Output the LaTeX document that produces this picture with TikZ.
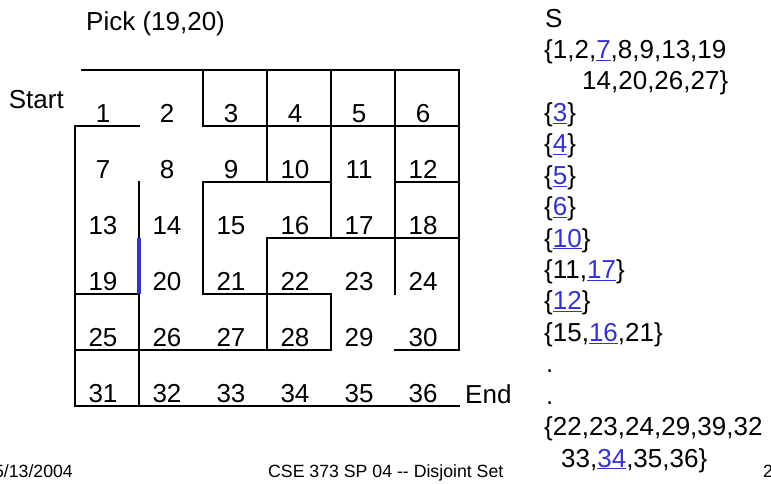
\documentclass[tikz,border=0pt]{standalone}
\usepackage{fontspec}
\setmainfont{Liberation Sans}
\usepackage{tikz}
\usetikzlibrary{positioning}
\definecolor{linkblue}{HTML}{3333CC}
\newcommand{\lnk}[1]{\textcolor{linkblue}{\underline{#1}}}
\tikzset{
  wall/.style={line width=1.8pt, line cap=rect},
  pickwall/.style={line width=3.5pt, draw=linkblue},
  cellnum/.style={anchor=base, inner sep=0pt,
    font=\fontsize{26}{30}\selectfont},
  setline/.style={anchor=base west, inner sep=0pt,
    font=\fontsize{26}{30}\selectfont},
  footer/.style={anchor=base west, inner sep=0pt,
    font=\fontsize{17.7}{21}\selectfont},
}

\begin{document}
\begin{tikzpicture}[x=1pt, y=-1pt]
\useasboundingbox (0,0) rectangle (771,483);
\node[setline] (pick) at (86,30) {Pick (19,20)};
\node[setline, anchor=base east] (start) at (64,108) {Start};
\node[setline] (finish) at (465,403) {End};
\begin{scope}[shift={(75,70)}, x=64pt, y=-56pt]
  \foreach \r/\a/\b in {0/0.1/6, 1/0/1, 1/2/6, 2/2/4, 2/5/6, 3/3/6,
                        4/0/1, 4/2/4, 5/0/4, 5/5/6, 6/0/6}
    \draw[wall] (\a,\r) -- (\b,\r);
  \foreach \c/\a/\b in {0/1/6, 1/2/3, 1/4/6, 2/0/1, 2/2/4, 3/0/2,
                        3/3/5, 4/0/3, 4/4/5, 5/0/4, 6/0/5}
    \draw[wall] (\c,\a) -- (\c,\b);
  \draw[pickwall] (1,3) -- (1,4);
  \foreach \j in {0,...,5}
    \foreach \i in {0,...,5} {
      \pgfmathtruncatemacro{\n}{6*\j+\i+1}
      \node[cellnum, xshift=-4pt, yshift=3.5pt] (c\n) at (\i+0.5,\j+1) {\n};
    }
\end{scope}
\node[setline] (setS) at (545,27) {S};
\node[setline] (set1) at (544,58.4) {\{1,2,\lnk{7},8,9,13,19};
\node[setline] (set1b) at (582,89.9) {14,20,26,27\}};
\node[setline] (set3) at (544,121.3) {\{\lnk{3}\}};
\node[setline] (set4) at (544,152.7) {\{\lnk{4}\}};
\node[setline] (set5) at (544,184.2) {\{\lnk{5}\}};
\node[setline] (set6) at (544,215.6) {\{\lnk{6}\}};
\node[setline] (set10) at (544,247) {\{\lnk{10}\}};
\node[setline] (set17) at (544,278.4) {\{11,\lnk{17}\}};
\node[setline] (set12) at (544,309.9) {\{\lnk{12}\}};
\node[setline] (set16) at (544,341.3) {\{15,\lnk{16},21\}};
\node[setline] (dota) at (546,372.7) {.};
\node[setline] (dotb) at (546,404.2) {.};
\node[setline] (set34) at (544,435.6) {\{22,23,24,29,39,32};
\node[setline] (set34b) at (561,467) {33,\lnk{34},35,36\}};
\node[footer, anchor=base east] (date) at (73,477) {5/13/2004};
\node[footer] (course) at (268,477) {CSE 373 SP 04 {-}{-} Disjoint Set};
\node[footer] (pgno) at (763,477) {2};
\end{tikzpicture}
\end{document}
